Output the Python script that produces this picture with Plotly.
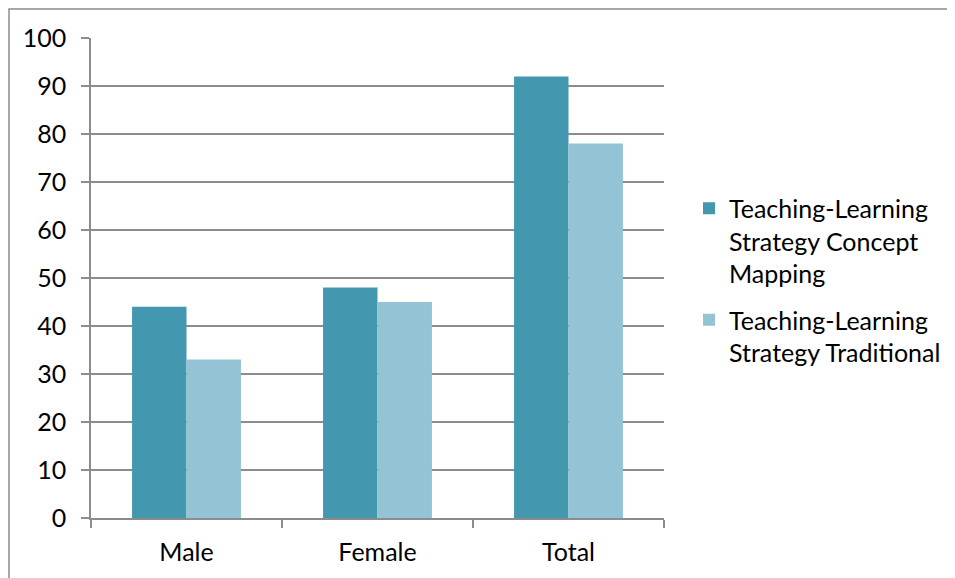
import plotly.graph_objects as go

categories = ["Male", "Female", "Total"]
concept_mapping = [44, 48, 92]
traditional = [33, 45, 78]
series_names = ["Teaching-Learning<br>Strategy Concept<br>Mapping",
                "Teaching-Learning<br>Strategy Traditional"]
y_ticks = [0, 10, 20, 30, 40, 50, 60, 70, 80, 90, 100]

dark = "#4398AF"
light = "#93C3D4"
grid = "#8C8C8C"
font_family = "Lato, 'Open Sans', sans-serif"

fig = go.Figure()
fig.add_trace(go.Bar(x=categories, y=concept_mapping, name=series_names[0],
                     legendgroup="a",
                     marker=dict(color=dark, line=dict(width=0))))
fig.add_trace(go.Bar(x=categories, y=traditional, name=series_names[1],
                     legendgroup="b",
                     marker=dict(color=light, line=dict(width=0))))

# page body has an 8px margin: figure starts at (8, 8) in the screenshot
W, H = 955, 578
L, T = 83, 30
plot_right, plot_bottom = 656, 510
R, B = W - plot_right, H - plot_bottom
pw, ph = W - L - R, H - T - B

fig.update_layout(
    width=W, height=H,
    margin=dict(l=L, r=R, t=T, b=B, pad=0),
    paper_bgcolor="white", plot_bgcolor="white",
    barmode="group", bargap=0.43, bargroupgap=0,
    font=dict(family=font_family, size=25, color="#000000"),
    legend=dict(x=1.0 + 25 / pw, xanchor="left", y=0.5 - 2.5 / ph, yanchor="middle",
                font=dict(size=25), valign="top", tracegroupgap=11,
                bgcolor="rgba(0,0,0,0)"),
    xaxis=dict(showgrid=False, showline=True, linecolor=grid, linewidth=1.5,
               ticks="outside", tickson="boundaries", ticklen=8, tickcolor=grid,
               tickwidth=1.5, ticklabelstandoff=11),
    yaxis=dict(range=[0, 100], tickvals=y_ticks, showgrid=True, gridcolor=grid,
               gridwidth=1.5, showline=True, linecolor=grid, linewidth=1.5,
               ticks="outside", ticklen=8, tickcolor=grid, tickwidth=1.5,
               zeroline=False, ticklabelstandoff=10),
    shapes=[dict(type="rect", xref="paper", yref="paper",
                 x0=(1 - L) / pw, x1=(W + 20 - L) / pw,
                 y0=(plot_bottom - (H + 20)) / ph, y1=(plot_bottom - 1) / ph,
                 line=dict(color=grid, width=1.5), fillcolor="rgba(0,0,0,0)",
                 layer="below")],
)

fig.write_html("out.html")
